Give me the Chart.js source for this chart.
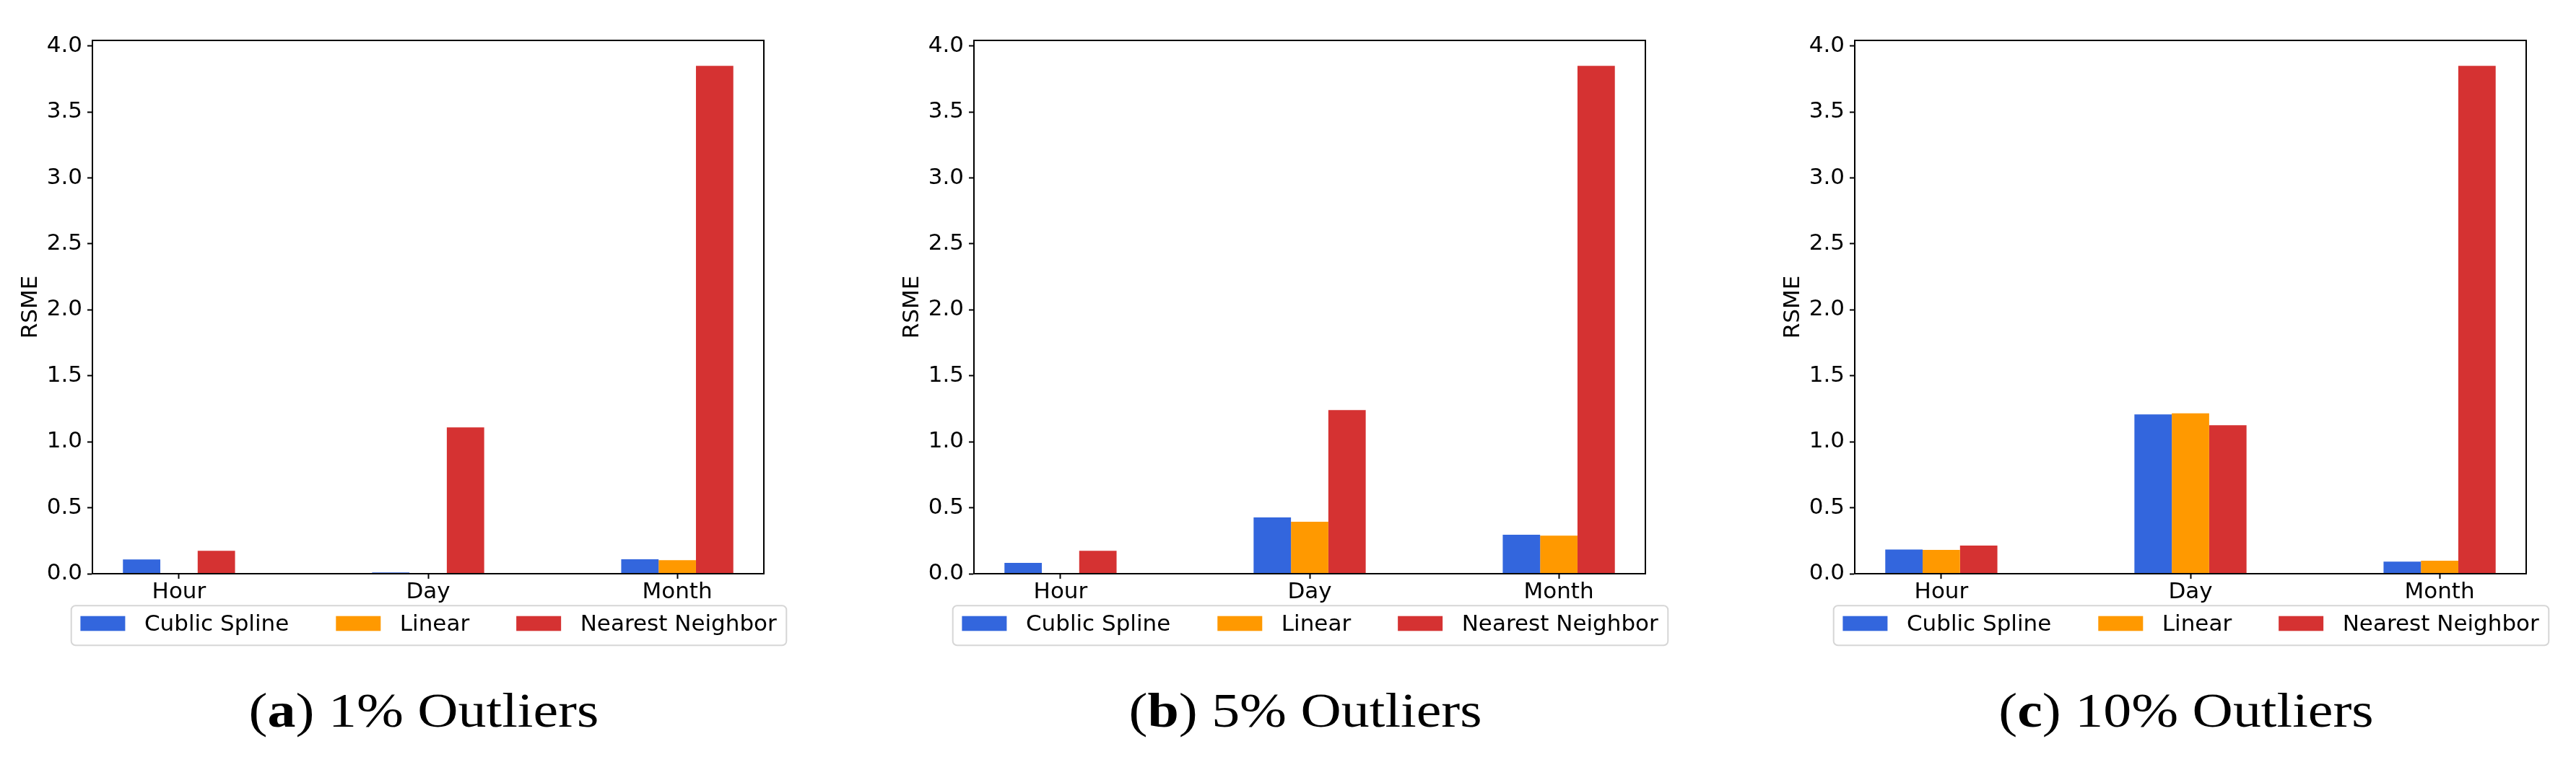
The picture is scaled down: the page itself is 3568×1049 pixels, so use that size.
<!DOCTYPE html>
<html><head><meta charset="utf-8">
<script src="https://cdn.jsdelivr.net/npm/chart.js@4.4.1/dist/chart.umd.min.js"></script>
<style>
html,body{margin:0;padding:0;background:#fff;overflow:hidden;width:3568px;height:1049px;}
canvas.panel{position:absolute;top:0;}
.cap{position:absolute;top:951px;width:700px;text-align:center;font-family:"Liberation Serif",serif;font-size:67px;line-height:67px;color:#000;transform:scaleX(1.163);transform-origin:50% 50%;white-space:nowrap;}
.cap b{font-weight:bold;}
</style></head><body>
<canvas id="c0" class="panel" width="1126" height="930" style="left:0px"></canvas>
<canvas id="c1" class="panel" width="1126" height="930" style="left:1221px"></canvas>
<canvas id="c2" class="panel" width="1126" height="930" style="left:2441px"></canvas>
<div id="cap0" class="cap"></div>
<div id="cap1" class="cap"></div>
<div id="cap2" class="cap"></div>
<script>
// ---- data ----
const categories = ['Hour', 'Day', 'Month'];
const seriesNames = ['Cublic Spline', 'Linear', 'Nearest Neighbor'];
const seriesColors = ['#3366dd', '#ff9900', '#d53232'];
const yTickValues = [0, 0.5, 1.0, 1.5, 2.0, 2.5, 3.0, 3.5, 4.0];
const yAxisLabel = 'RSME';
const panelLetters = ['a', 'b', 'c'];
const panelCaptions = ['1% Outliers', '5% Outliers', '10% Outliers'];

// (a) 1% outliers
const cubic1 = [0.108, 0.009, 0.110];
const linear1 = [0.0, 0.0, 0.102];
const nearest1 = [0.173, 1.109, 3.85];
// (b) 5% outliers
const cubic2 = [0.082, 0.427, 0.295];
const linear2 = [0.0, 0.394, 0.288];
const nearest2 = [0.173, 1.241, 3.85];
// (c) 10% outliers
const cubic3 = [0.183, 1.207, 0.091];
const linear3 = [0.180, 1.216, 0.099];
const nearest3 = [0.213, 1.125, 3.85];

const panels = [[cubic1, linear1, nearest1], [cubic2, linear2, nearest2], [cubic3, linear3, nearest3]];
const captionCenters = [587, 1808, 3028];

// ---- layout / style ----
const FONT = '"DejaVu Sans", sans-serif';
const FS = 31;
const groupHalf = 0.225;           // 3 bars * 0.15 / 2
const xMin = -groupHalf - 0.05 * (categories.length - 1 + 2 * groupHalf);
const xMax = categories.length - 1 + groupHalf + 0.05 * (categories.length - 1 + 2 * groupHalf);

const spinePlugin = {
  id: 'spines',
  afterDatasetsDraw(chart) {
    const {ctx, chartArea: a} = chart;
    ctx.save();
    ctx.strokeStyle = '#000';
    ctx.lineWidth = 2;
    ctx.strokeRect(a.left, a.top, a.right - a.left, a.bottom - a.top);
    ctx.restore();
  }
};

const legendPlugin = {
  id: 'mplLegend',
  afterDraw(chart) {
    const {ctx, chartArea: a} = chart;
    const ds = chart.data.datasets;
    ctx.save();
    ctx.font = FS + 'px ' + FONT;
    const handleW = 62, handleH = 20.6, textPad = 26.5, colSp = 65, padL = 12.7, padR = 13.5;
    const widths = ds.map(d => ctx.measureText(d.label).width);
    const total = padL + padR + ds.length * (handleW + textPad) + widths.reduce((s, w) => s + w, 0) + (ds.length - 1) * colSp;
    const cx = (a.left + a.right) / 2 + 1;
    const x0 = cx - total / 2;
    const top = a.bottom + 44.3, h = 55, r = 6;
    ctx.beginPath();
    ctx.moveTo(x0 + r, top);
    ctx.lineTo(x0 + total - r, top);
    ctx.arcTo(x0 + total, top, x0 + total, top + r, r);
    ctx.lineTo(x0 + total, top + h - r);
    ctx.arcTo(x0 + total, top + h, x0 + total - r, top + h, r);
    ctx.lineTo(x0 + r, top + h);
    ctx.arcTo(x0, top + h, x0, top + h - r, r);
    ctx.lineTo(x0, top + r);
    ctx.arcTo(x0, top, x0 + r, top, r);
    ctx.closePath();
    ctx.fillStyle = 'rgba(255,255,255,0.8)';
    ctx.fill();
    ctx.strokeStyle = '#d6d6d6';
    ctx.lineWidth = 2;
    ctx.stroke();
    let x = x0 + padL;
    ds.forEach((d, i) => {
      ctx.fillStyle = d.backgroundColor;
      ctx.fillRect(x, top + 14.4, handleW, handleH);
      x += handleW + textPad;
      ctx.fillStyle = '#000';
      ctx.textAlign = 'left';
      ctx.textBaseline = 'alphabetic';
      ctx.fillText(d.label, x, top + 34.7);
      x += widths[i] + colSp;
    });
    ctx.restore();
  }
};

panels.forEach((series, p) => {
  const yMax = 1.05 * Math.max(...series.flat());
  const datasets = series.map((vals, s) => ({
    label: seriesNames[s],
    data: vals.map((v, i) => ({x: i, y: v})),
    backgroundColor: seriesColors[s],
    borderWidth: 0,
    categoryPercentage: 2 * groupHalf,
    barPercentage: 1.0
  }));
  new Chart(document.getElementById('c' + p), {
    type: 'bar',
    data: {datasets},
    plugins: [spinePlugin, legendPlugin],
    options: {
      responsive: false,
      animation: false,
      devicePixelRatio: 1,
      layout: {padding: {left: 0, top: 56, right: 68, bottom: 90}},
      plugins: {legend: {display: false}, tooltip: {enabled: false}},
      scales: {
        x: {
          type: 'linear',
          min: xMin,
          max: xMax,
          offset: false,
          afterBuildTicks: sc => { sc.ticks = categories.map((c, i) => ({value: i})); },
          afterFit: sc => { sc.height = 45; },
          grid: {display: true, drawOnChartArea: false, drawTicks: true, offset: false, tickLength: 7, tickWidth: 2, tickColor: '#000'},
          border: {display: true, color: '#000', width: 2},
          ticks: {
            autoSkip: false, maxRotation: 0, padding: 0, color: '#000',
            font: {family: FONT, size: FS},
            callback: v => categories[Math.round(v)]
          }
        },
        y: {
          type: 'linear',
          min: 0,
          max: yMax,
          afterBuildTicks: sc => { sc.ticks = yTickValues.map(v => ({value: v})); },
          afterFit: sc => { sc.width = 128; },
          grid: {display: true, drawOnChartArea: false, drawTicks: true, tickLength: 7, tickWidth: 2, tickColor: '#000'},
          border: {display: true, color: '#000', width: 2},
          ticks: {
            padding: 7, color: '#000',
            font: {family: FONT, size: FS},
            callback: v => Number(v).toFixed(1)
          },
          title: {
            display: true, text: yAxisLabel, color: '#000',
            font: {family: FONT, size: FS},
            padding: {top: 24.7, bottom: 0}
          }
        }
      }
    }
  });
  const cap = document.getElementById('cap' + p);
  cap.innerHTML = '(<b>' + panelLetters[p] + '</b>) ' + panelCaptions[p];
  cap.style.left = (captionCenters[p] - 350) + 'px';
});
</script>
</body></html>
